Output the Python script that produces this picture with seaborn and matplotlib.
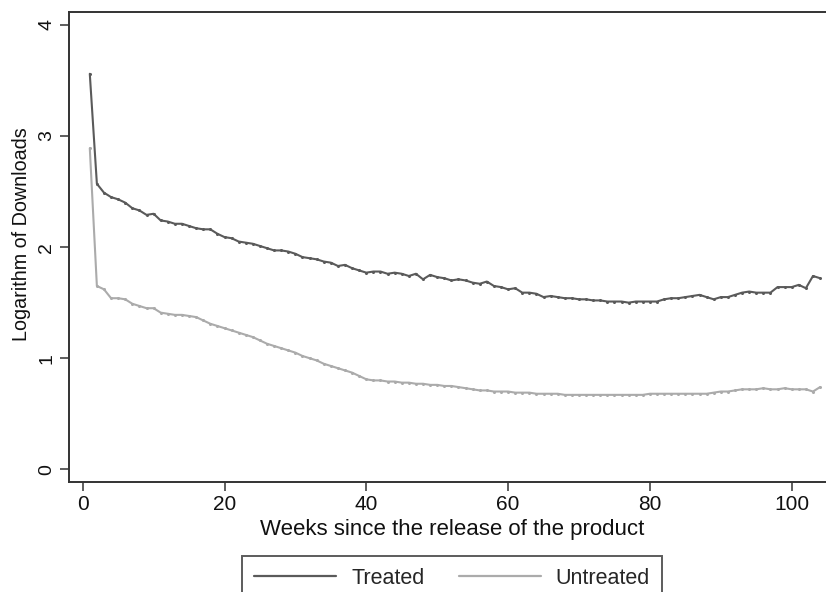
import numpy as np
import pandas as pd
import matplotlib
matplotlib.use("Agg")
import matplotlib.pyplot as plt
import seaborn as sns
from matplotlib.lines import Line2D

weeks = list(range(1, 105))

treated = [3.56, 2.57, 2.49, 2.45, 2.43, 2.40, 2.35, 2.33, 2.29, 2.30,
           2.24, 2.23, 2.21, 2.21, 2.19, 2.17, 2.16, 2.16, 2.12, 2.09,
           2.08, 2.05, 2.04, 2.03, 2.01, 1.99, 1.97, 1.97, 1.96, 1.94,
           1.91, 1.90, 1.89, 1.87, 1.86, 1.83, 1.84, 1.81, 1.79, 1.77,
           1.78, 1.78, 1.76, 1.77, 1.76, 1.74, 1.76, 1.71, 1.75, 1.73,
           1.72, 1.70, 1.71, 1.70, 1.68, 1.67, 1.69, 1.65, 1.64, 1.62,
           1.63, 1.59, 1.59, 1.58, 1.55, 1.56, 1.55, 1.54, 1.54, 1.53,
           1.53, 1.52, 1.52, 1.51, 1.51, 1.51, 1.50, 1.51, 1.51, 1.51,
           1.51, 1.53, 1.54, 1.54, 1.55, 1.56, 1.57, 1.55, 1.53, 1.55,
           1.55, 1.57, 1.59, 1.60, 1.59, 1.59, 1.59, 1.64, 1.64, 1.64,
           1.66, 1.63, 1.74, 1.72]

untreated = [2.89, 1.65, 1.62, 1.54, 1.54, 1.53, 1.49, 1.47, 1.45, 1.45,
             1.41, 1.40, 1.39, 1.39, 1.38, 1.37, 1.34, 1.31, 1.29, 1.27,
             1.25, 1.23, 1.21, 1.19, 1.16, 1.13, 1.11, 1.09, 1.07, 1.05,
             1.02, 1.00, 0.98, 0.95, 0.93, 0.91, 0.89, 0.87, 0.84, 0.81,
             0.80, 0.80, 0.79, 0.79, 0.78, 0.78, 0.77, 0.77, 0.76, 0.76,
             0.75, 0.75, 0.74, 0.73, 0.72, 0.71, 0.71, 0.70, 0.70, 0.70,
             0.69, 0.69, 0.69, 0.68, 0.68, 0.68, 0.68, 0.67, 0.67, 0.67,
             0.67, 0.67, 0.67, 0.67, 0.67, 0.67, 0.67, 0.67, 0.67, 0.68,
             0.68, 0.68, 0.68, 0.68, 0.68, 0.68, 0.68, 0.68, 0.69, 0.70,
             0.70, 0.71, 0.72, 0.72, 0.72, 0.73, 0.72, 0.72, 0.73, 0.72,
             0.72, 0.72, 0.70, 0.74]

series_names = ["Treated", "Untreated"]
x_ticks = [0, 20, 40, 60, 80, 100]
y_ticks = [0, 1, 2, 3, 4]
x_label = "Weeks since the release of the product"
y_label = "Logarithm of Downloads"

df = pd.DataFrame({
    "week": weeks * 2,
    "value": treated + untreated,
    "group": [series_names[0]] * len(weeks) + [series_names[1]] * len(weeks),
})

sns.set_theme(style="white")
plt.rcParams["font.family"] = ["Liberation Sans", "DejaVu Sans"]

W, H = 826, 592
fig = plt.figure(figsize=(W / 100, H / 100), dpi=100)
left_px, right_px, top_px, bot_px = 69, 835, 12, 482
aw, ah = (right_px - left_px), (bot_px - top_px)
ax = fig.add_axes([left_px / W, 1 - bot_px / H, aw / W, ah / H])

palette = {"Treated": "#5a5a5a", "Untreated": "#ababab"}
sns.lineplot(data=df, x="week", y="value", hue="group", palette=palette,
             linewidth=1.5, marker="o", markersize=2.2, markeredgewidth=0,
             ax=ax, legend=False)

x0_px, px_per_week = 82.7, 7.09
y0_px, px_per_unit = 469.3, 111.1
ax.set_xlim((left_px - x0_px) / px_per_week, (right_px - x0_px) / px_per_week)
ax.set_ylim((y0_px - bot_px) / px_per_unit, (y0_px - top_px) / px_per_unit)

ax.set_xticks(x_ticks)
ax.set_yticks(y_ticks)
ax.set_yticklabels([str(v) for v in y_ticks], rotation=90, va="center")
ax.tick_params(axis="both", which="major", direction="out", bottom=True, left=True,
               length=6.3, width=1.1, color="#333333", labelcolor="#111111")
ax.tick_params(axis="x", pad=3, labelsize=15)
ax.tick_params(axis="y", pad=3.5, labelsize=14)
ax.set_xlabel(x_label, fontsize=16, color="#111111")
ax.set_ylabel(y_label, fontsize=14.2, color="#111111")
ax.xaxis.set_label_coords((452 - left_px) / aw, (bot_px - 519) / ah)
ax.yaxis.set_label_coords((31 - left_px) / aw, (bot_px - 234) / ah)
ax.grid(False)
for side in ["left", "bottom", "top", "right"]:
    ax.spines[side].set_color("#333333")
    ax.spines[side].set_linewidth(1.4)

handles = [Line2D([0], [0], color=palette[n], linewidth=1.6) for n in series_names]
leg = fig.legend(handles, series_names, loc="upper center",
                 bbox_to_anchor=(452 / W, 1 - 556 / H), ncol=2, fontsize=15.5,
                 frameon=True, fancybox=False, handlelength=3.8,
                 handletextpad=0.7, columnspacing=1.6, borderpad=0.55,
                 borderaxespad=0)
leg.get_frame().set_edgecolor("#333333")
leg.get_frame().set_linewidth(1.4)

fig.savefig("out.png", dpi=100)
